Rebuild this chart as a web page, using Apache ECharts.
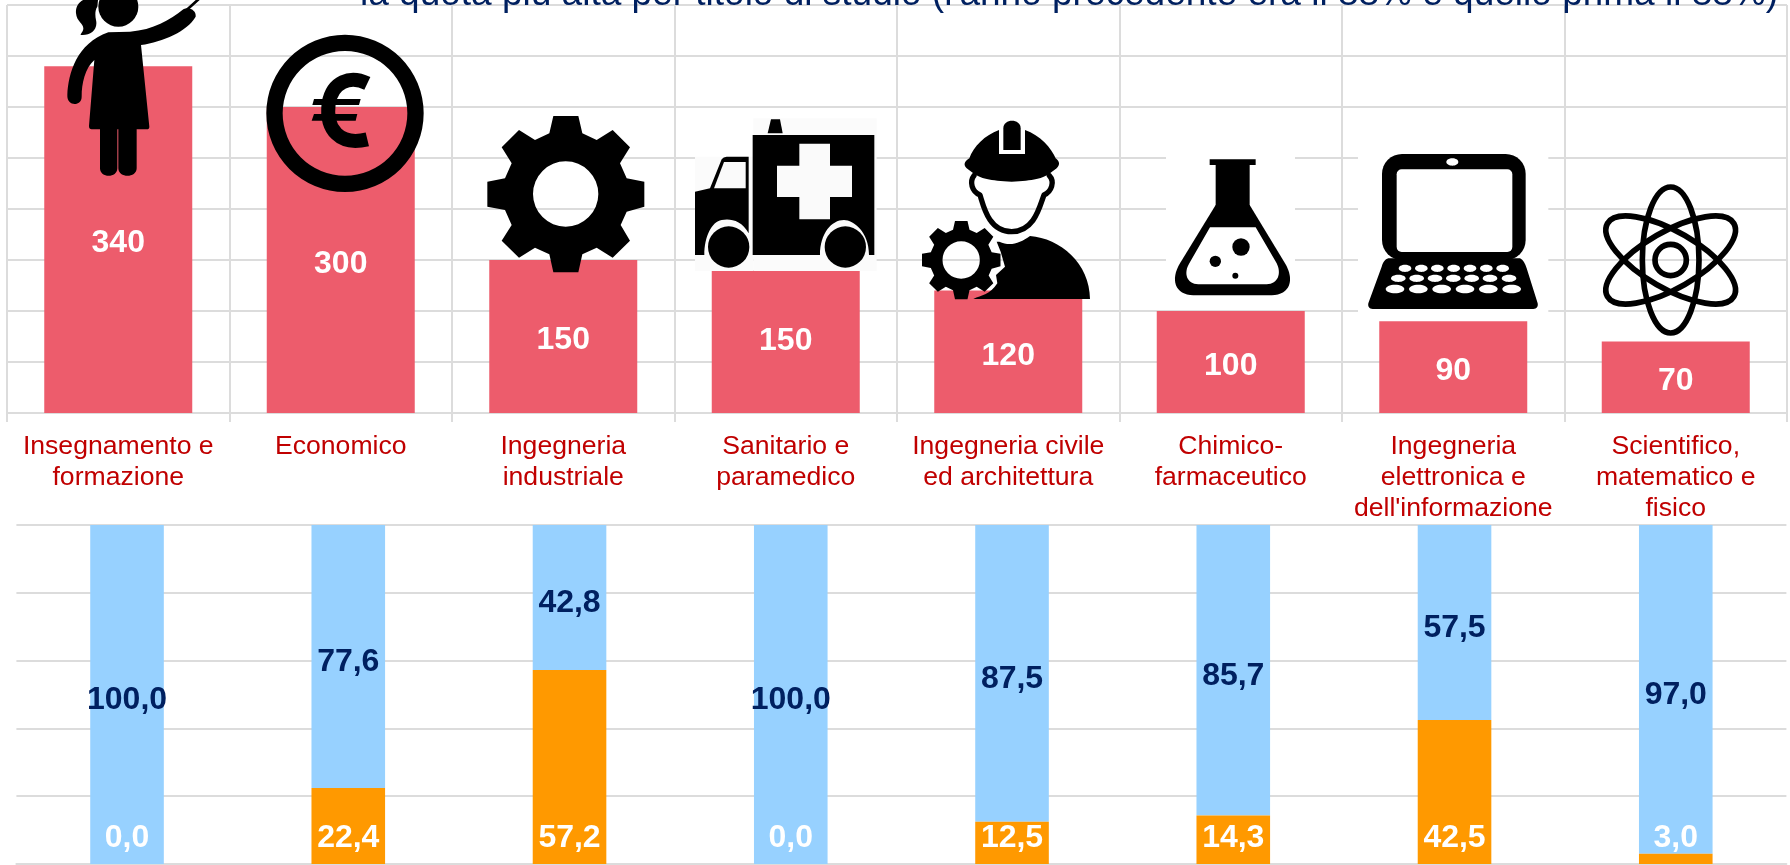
<!DOCTYPE html>
<html>
<head>
<meta charset="utf-8">
<title>Titolo di studio</title>
<script src="https://cdn.jsdelivr.net/npm/echarts@6/dist/echarts.min.js"></script>
<style>
  html, body { margin: 0; padding: 0; background: #fff; }
  #chart { width: 1790px; height: 865px; }
</style>
</head>
<body>
<div id="chart"></div>
<script>
const titleText = "la quota più alta per titolo di studio (l'anno precedente era il 88% e quello prima il 88%)";
const categories = [
  "Insegnamento e\nformazione",
  "Economico",
  "Ingegneria\nindustriale",
  "Sanitario e\nparamedico",
  "Ingegneria civile\ned architettura",
  "Chimico-\nfarmaceutico",
  "Ingegneria\nelettronica e\ndell'informazione",
  "Scientifico,\nmatematico e\nfisico",
];
// the bar for Sanitario is drawn shorter than its printed label
const barValues = [340, 300, 150, 140, 120, 100, 90, 70];
const barLabels = [340, 300, 150, 150, 120, 100, 90, 70];
const orangeValues = [0.0, 22.4, 57.2, 0.0, 12.5, 14.3, 42.5, 3.0];
const blueValues = [100.0, 77.6, 42.8, 100.0, 87.5, 85.7, 57.5, 97.0];

const FONT = "Liberation Sans";
const GRID_COLOR = "#dcdcdc";
const comma = (v) => v.toFixed(1).replace(".", ",");

// ---- icons, traced in a 3x space and scaled back down ----
const black = { fill: "#000" };
const paper = { fill: "#fff" };
const outline = (w) => ({ fill: "none", stroke: "#000", lineWidth: w, lineCap: "round", lineJoin: "round" });
const path = (d, style) => ({ type: "path", shape: { pathData: d }, style: style || black });
const box = (x, y, width, height, style, r) => ({
  type: "rect", shape: { x, y, width, height, r: r || 0 }, style: style || paper,
});
const dot = (cx, cy, r, style) => ({ type: "circle", shape: { cx, cy, r }, style: style || black });
const key = (cx, cy, rx, ry) => ({ type: "ellipse", shape: { cx, cy, rx, ry }, style: paper });
const icon = (x, y, children) => ({ type: "group", x, y, scaleX: 1 / 3, scaleY: 1 / 3, children });

// hole is wound the other way round so what is behind the gear shows through
function gearPath(holeRadius) {
  const teeth = "M250 48L325 48L337 100L380 120L428 90L480 142L450 190L470 235L523 245L523 320L470 335" +
    "L452 375L480 422L428 473L380 443L337 463L325 517L250 517L238 463L195 443L147 473L95 422L125 375" +
    "L105 330L52 320L52 245L105 235L125 190L95 142L147 90L195 120L238 100Z";
  const r = holeRadius;
  const hole = `M${287 + r} 282A${r} ${r} 0 1 0 ${287 - r} 282A${r} ${r} 0 1 0 ${287 + r} 282Z`;
  return teeth + hole;
}

const keyRows = [
  { y: 385, rx: 19, ry: 11, xs: [135, 184, 232, 281, 330, 379, 428] },
  { y: 415, rx: 22, ry: 11, xs: [115, 170, 225, 280, 335, 390, 447] },
  { y: 447, rx: 28, ry: 13, xs: [105, 175, 245, 315, 385, 455] },
];

const icons = [
  // teacher
  icon(40, 0, [
    path("M440 30L482 -8", outline(8)),
    dot(235, 20, 60),
    path("M175 -10C130 -10 105 10 108 40C110 65 130 70 130 85C130 95 122 100 122 105C150 108 175 90 168 60C165 45 165 30 172 20Z"),
    path("M205 97L270 95C340 90 390 60 430 28C445 18 470 30 467 50C440 95 370 125 303 135L328 380Q328 388 320 388L290 388" +
      "L290 505C290 535 235 535 235 505L235 388L232 388L232 505C232 535 180 535 180 505L180 388L155 388Q147 388 147 378" +
      "L163 180C135 205 125 250 125 290C125 320 80 320 82 285C85 220 110 130 205 97Z"),
  ]),
  // euro coin
  icon(250, 20, [
    { type: "ring", shape: { cx: 285, cy: 280, r: 236, r0: 187 }, style: black },
    path("M352 190C300 165 247 185 236 250C226 330 270 378 352 358", { fill: "none", stroke: "#000", lineWidth: 42 }),
    path("M192 237L332 237L327 255L187 255Z"),
    path("M192 282L322 282L317 302L185 302Z"),
  ]),
  // gear
  icon(470, 100, [path(gearPath(98))]),
  // ambulance, on its own near white square
  icon(470, 100, [
    box(675, 170, 175, 343, { fill: "#fbfbfb" }),
    box(850, 55, 370, 458, { fill: "#fbfbfb" }),
    path("M893 100L903 58L930 58L938 100Z"),
    path("M848 105L1213 105L1213 465L1197 465C1197 395 1150 360 1122 360C1085 360 1050 400 1050 465L848 465Z"),
    path("M988 131L1080 131L1080 197L1146 197L1146 291L1080 291L1080 358L988 358L988 291L921 291L921 197L988 197Z", { fill: "#fafafa" }),
    path("M675 275L720 265L755 178Q760 170 770 170L836 170L836 400C815 360 780 355 755 360C725 365 703 410 703 465L675 465Z"),
    path("M732 265L762 186L827 186L827 265Z", { fill: "#fafafa" }),
    dot(776, 441, 62),
    dot(1126, 441, 62),
  ]),
  // engineer with gear
  icon(910, 110, [
    path("M280 120L280 55C280 25 332 25 332 55L332 120Z"),
    path("M267 60L267 132L345 132L345 60C390 75 425 115 437 145C450 155 450 165 440 175L420 190C400 205 370 213 305 215" +
      "C240 213 210 205 190 190L170 175C160 165 162 155 178 145C190 110 225 75 267 60Z"),
    path("M192 197C178 215 185 245 210 255C220 285 235 365 305 365C375 365 390 285 402 255C425 245 435 215 418 197", outline(16)),
    path("M268 395C300 410 330 400 360 378C450 385 540 460 540 567L190 567C215 555 240 555 262 520L258 495L285 470L272 425L260 395Z"),
    { type: "group", x: 10, y: 309, scaleX: 0.5, scaleY: 0.5, children: [path(gearPath(112))] },
  ]),
  // flask, on its own white square
  icon(1160, 140, [
    box(18, 15, 387, 465),
    box(149, 58, 138, 17, black),
    box(167, 75, 102, 125, black),
    path("M167 195L60 370C30 420 45 465 100 466L335 466C390 465 405 420 375 370L269 195Z"),
    path("M150 262L287 262L350 370C365 400 355 432 320 433L115 433C80 432 70 400 88 370Z", paper),
    dot(243, 321, 26),
    dot(166, 364, 17),
    dot(226, 407, 9),
  ]),
  // laptop, on its own white square
  icon(1360, 140, [
    box(-6, 15, 571, 525),
    box(66, 42, 431, 318, black, 60),
    box(110, 88, 347, 248, paper, 15),
    key(277, 66, 18, 11),
    path("M85 355L480 355C490 360 495 370 500 385L533 490C535 500 530 507 520 507L38 507C28 507 23 500 25 490L65 380C70 365 75 358 85 355Z"),
    ...keyRows.flatMap((row) => row.xs.map((x) => key(x, row.y, row.rx, row.ry))),
  ]),
  // atom
  icon(1580, 170, [
    dot(272, 270, 47, { fill: "none", stroke: "#000", lineWidth: 17 }),
    ...[0, Math.PI / 3, -Math.PI / 3].map((rotation) => ({
      type: "ellipse",
      originX: 272,
      originY: 270,
      rotation,
      shape: { cx: 272, cy: 270, rx: 85, ry: 219 },
      style: { fill: "none", stroke: "#000", lineWidth: 17 },
    })),
  ]),
];

const chart = echarts.init(document.getElementById("chart"));

chart.setOption({
  animation: false,
  backgroundColor: "#fff",
  textStyle: { fontFamily: FONT },
  title: {
    text: titleText,
    left: 360,
    top: -24,
    padding: 0,
    textStyle: { color: "#002060", fontSize: 37, fontWeight: "normal", fontFamily: FONT },
  },
  grid: [
    { left: 7, top: 5, width: 1780, height: 408 },
    { left: 16.4, top: 525, width: 1770, height: 339 },
  ],
  xAxis: [
    {
      gridIndex: 0,
      type: "category",
      data: categories,
      axisLine: { lineStyle: { color: GRID_COLOR, width: 2 } },
      axisTick: { show: true, length: 9, lineStyle: { color: GRID_COLOR, width: 2 } },
      splitLine: { show: true, lineStyle: { color: GRID_COLOR, width: 2 } },
      axisLabel: {
        interval: 0,
        margin: 18,
        color: "#c00000",
        fontSize: 26.6,
        lineHeight: 31,
        fontFamily: FONT,
      },
    },
    {
      gridIndex: 1,
      type: "category",
      data: categories,
      axisLine: { lineStyle: { color: GRID_COLOR, width: 2 } },
      axisTick: { show: false },
      axisLabel: { show: false },
    },
  ],
  yAxis: [
    {
      gridIndex: 0,
      type: "value",
      min: 0,
      max: 400,
      interval: 50,
      axisLine: { show: false },
      axisTick: { show: false },
      axisLabel: { show: false },
      splitLine: { lineStyle: { color: GRID_COLOR, width: 2 } },
    },
    {
      gridIndex: 1,
      type: "value",
      min: 0,
      max: 100,
      interval: 20,
      axisLine: { show: false },
      axisTick: { show: false },
      axisLabel: { show: false },
      splitLine: { lineStyle: { color: GRID_COLOR, width: 2 } },
    },
  ],
  series: [
    {
      type: "bar",
      xAxisIndex: 0,
      yAxisIndex: 0,
      barWidth: 148,
      itemStyle: { color: "#ed5c6c" },
      data: barValues.map((v, i) => ({
        value: v,
        label: { offset: [0, barLabels[i] === v ? 4 : 0] },
      })),
      label: {
        show: true,
        position: "inside",
        color: "#fff",
        fontSize: 32,
        fontWeight: "bold",
        fontFamily: FONT,
        formatter: (p) => String(barLabels[p.dataIndex]),
      },
    },
    {
      type: "bar",
      xAxisIndex: 1,
      yAxisIndex: 1,
      stack: "quota",
      barWidth: 73.6,
      itemStyle: { color: "#ff9900" },
      data: orangeValues,
      z: 3,
      label: {
        show: true,
        position: "insideBottom",
        distance: 9.5,
        color: "#fff",
        fontSize: 32,
        fontWeight: "bold",
        fontFamily: FONT,
        formatter: (p) => comma(p.value),
      },
    },
    {
      type: "bar",
      xAxisIndex: 1,
      yAxisIndex: 1,
      stack: "quota",
      barWidth: 73.6,
      itemStyle: { color: "#97d1ff" },
      data: blueValues,
      label: {
        show: true,
        position: "inside",
        offset: [0, 5.5],
        color: "#002060",
        fontSize: 32,
        fontWeight: "bold",
        fontFamily: FONT,
        formatter: (p) => comma(p.value),
      },
    },
    {
      // one pictogram per category, sitting over the bars
      type: "custom",
      xAxisIndex: 0,
      yAxisIndex: 0,
      silent: true,
      clip: false,
      z: 10,
      data: categories.map((c, i) => [i, 0]),
      renderItem: (params) => icons[params.dataIndex],
    },
  ],
});
</script>
</body>
</html>
